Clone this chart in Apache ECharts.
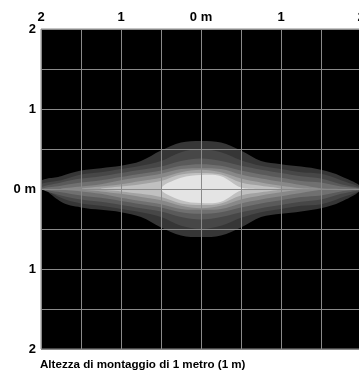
<!DOCTYPE html>
<html>
<head>
<meta charset="utf-8">
<script src="https://cdn.jsdelivr.net/npm/echarts@6/dist/echarts.min.js"></script>
<style>
  html, body { margin: 0; padding: 0; background: #fff; }
  #chart { width: 359px; height: 372px; }
</style>
</head>
<body>
<div id="chart"></div>
<script>
// Horizontal positions (m) at which each isolux band's half-height is given
const xSamples = [-2, -1.75, -1.5, -1.25, -1, -0.75, -0.5, -0.25, 0, 0.25, 0.5, 0.75, 1, 1.25, 1.5, 1.75, 2];

// Half-height (m) of each illuminance band, outermost (dimmest) to innermost (brightest)
const band1 = [0.09, 0.16, 0.23, 0.26, 0.29, 0.35, 0.48, 0.58, 0.60, 0.58, 0.48, 0.35, 0.31, 0.28, 0.24, 0.16, 0.01];
const band2 = [0.05, 0.11, 0.18, 0.21, 0.25, 0.29, 0.35, 0.46, 0.50, 0.46, 0.36, 0.29, 0.25, 0.21, 0.19, 0.11, 0];
const band3 = [0.01, 0.08, 0.13, 0.16, 0.20, 0.24, 0.28, 0.35, 0.38, 0.35, 0.29, 0.24, 0.20, 0.16, 0.13, 0.06, 0];
const band4 = [0, 0.04, 0.08, 0.11, 0.15, 0.19, 0.23, 0.29, 0.31, 0.29, 0.23, 0.18, 0.14, 0.10, 0.08, 0.03, 0];
const band5 = [0, 0, 0.03, 0.06, 0.11, 0.15, 0.19, 0.25, 0.26, 0.25, 0.18, 0.13, 0.09, 0.05, 0.01, 0, 0];
const band6 = [0, 0, 0, 0.03, 0.06, 0.10, 0.14, 0.21, 0.24, 0.21, 0.13, 0.08, 0.04, 0.01, 0, 0, 0];
const band7 = [0, 0, 0, 0, 0.03, 0.06, 0.10, 0.18, 0.20, 0.18, 0.08, 0.04, 0, 0, 0, 0, 0];
const band8 = [0, 0, 0, 0, 0, 0, 0, 0.14, 0.175, 0.16, 0.02, 0, 0, 0, 0, 0, 0];

const bands = [band1, band2, band3, band4, band5, band6, band7, band8];
const bandColors = ['#363636', '#474747', '#5a5a5a', '#707070', '#888888', '#a2a2a2', '#c0c0c0', '#e4e4e4'];

// Axis ticks and their printed labels
const tickValues = [-2, -1, 0, 1, 2];
const xTickLabels = ['2', '1', '0 m', '1', '2'];
const yTickLabels = ['2', '1', '0 m', '1', '2'];

const caption = 'Altezza di montaggio di 1 metro (1 m)';

function labelFor(list) {
  return function (v) {
    const i = tickValues.findIndex(t => Math.abs(t - v) < 1e-9);
    return i >= 0 ? list[i] : '';
  };
}

// Outline of one band: upper edge left->right, lower edge right->left
function bandOutline(hw) {
  let first = hw.findIndex(h => h > 0);
  let last = hw.length - 1 - [...hw].reverse().findIndex(h => h > 0);
  first = Math.max(0, first - 1);
  last = Math.min(hw.length - 1, last + 1);
  const pts = [];
  for (let i = first; i <= last; i++) pts.push([xSamples[i], hw[i]]);
  for (let i = last - 1; i > first; i--) pts.push([xSamples[i], -hw[i]]);
  return pts;
}

const chart = echarts.init(document.getElementById('chart'), null, { renderer: 'canvas' });

const axisText = { color: '#000', fontSize: 13, fontWeight: 'bold', fontFamily: 'Liberation Sans, Arial, sans-serif' };

chart.setOption({
  animation: false,
  backgroundColor: '#fff',
  title: {
    text: caption,
    left: 40,
    top: 359,
    padding: 0,
    textStyle: { color: '#000', fontSize: 11.6, fontWeight: 'bold', fontFamily: 'Liberation Sans, Arial, sans-serif' }
  },
  grid: {
    left: 41, top: 29, width: 320, height: 320,
    outerBoundsMode: 'none',
    containLabel: false,
    show: true, backgroundColor: '#000', borderColor: '#8a8a8a', borderWidth: 1
  },
  xAxis: {
    type: 'value', position: 'top', min: -2, max: 2, interval: 0.5, z: 10,
    axisLine: { show: false }, axisTick: { show: false },
    splitLine: { show: true, lineStyle: { color: '#8a8a8a', width: 1 } },
    axisLabel: Object.assign({ margin: 5, formatter: labelFor(xTickLabels), showMinLabel: true, showMaxLabel: true, hideOverlap: false }, axisText)
  },
  yAxis: {
    type: 'value', min: -2, max: 2, interval: 0.5, z: 10,
    axisLine: { show: false }, axisTick: { show: false },
    splitLine: { show: true, lineStyle: { color: '#8a8a8a', width: 1 } },
    axisLabel: Object.assign({ margin: 5, formatter: labelFor(yTickLabels), showMinLabel: true, showMaxLabel: true, hideOverlap: false }, axisText)
  },
  series: [{
    type: 'custom',
    coordinateSystem: 'cartesian2d',
    clip: true,
    z: 2,
    data: bands.map((b, i) => [i]),
    encode: { x: -1, y: -1 },
    renderItem: function (params, api) {
      const idx = api.value(0);
      const pts = bandOutline(bands[idx]).map(p => api.coord(p));
      return {
        type: 'polygon',
        shape: { points: pts, smooth: 0.35 },
        style: { fill: bandColors[idx], stroke: null }
      };
    }
  }]
});
</script>
</body>
</html>
